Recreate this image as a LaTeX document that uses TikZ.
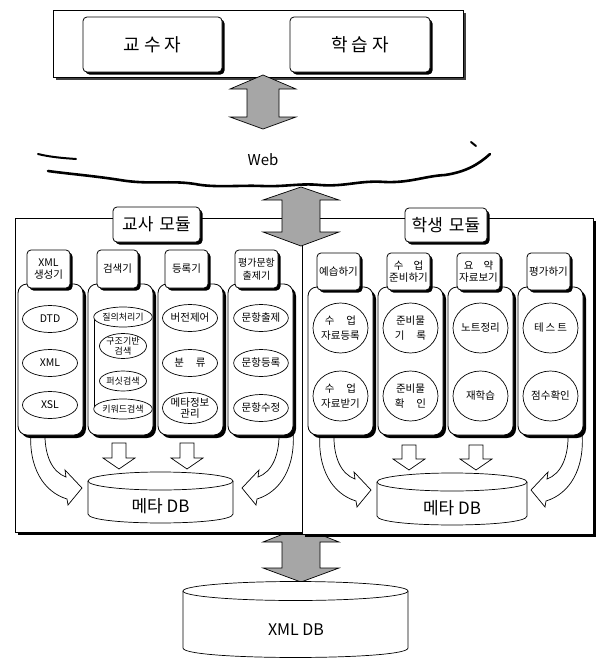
\documentclass[tikz,border=0pt]{standalone}
\usepackage{fontspec}
\setmainfont{Noto Sans CJK KR}
\usetikzlibrary{shadows,shapes.geometric}
\newcommand{\gdarrow}[7]{%
  \filldraw[garrow] (#1,#2) -- (#1+#7,#3) -- (#1+#6,#3) -- (#1+#6,#4) -- (#1+#7,#4) -- (#1,#5)
   -- (#1-#7,#4) -- (#1-#6,#4) -- (#1-#6,#3) -- (#1-#7,#3) -- cycle;}
\newcommand{\hdarrow}[3]{%
  \filldraw[harrow] (#1-7,#2) -- (#1+7,#2) -- (#1+7,#3-11) -- (#1+16,#3-11) -- (#1,#3)
   -- (#1-16,#3-11) -- (#1-7,#3-11) -- cycle;}
\newcommand{\cyl}[5]{%
  \filldraw[fill=white,draw=black,line width=0.7pt] (#1,#3) -- (#1,#4) .. controls (#1,#4+1.33*#5) and (#2,#4+1.33*#5) .. (#2,#4) -- (#2,#3);
  \draw[fill=white,line width=0.7pt] ({(#1+#2)/2},#3) ellipse [x radius={(#2-#1)/2*1pt}, y radius=#5pt];}
\begin{document}
\begin{tikzpicture}[x=1pt,y=-1pt,
  shad/.style={drop shadow={shadow xshift=#1, shadow yshift=-#1, opacity=1, fill=black}},
  sbox/.style={draw=black, line width=0.8pt, fill=white, rounded corners=4pt, shad=2.5pt, inner sep=1pt, align=center},
  hbox/.style={sbox, minimum width=43pt, inner sep=0pt, font=\fontsize{10.5}{12.5}\selectfont},
  colbody/.style={draw=black, line width=0.8pt, fill=white, rounded corners=9pt, shad=3pt, minimum width=65pt, inner sep=0pt},
  frame/.style={draw=black, line width=0.8pt, fill=white, shad=3pt},
  ell/.style={draw=black, line width=0.7pt, fill=white, ellipse, inner sep=0pt, align=center, font=\fontsize{10.5}{12}\selectfont},
  garrow/.style={fill=black!35, draw=black, line width=0.7pt},
  harrow/.style={fill=white, draw=black, line width=0.7pt},
  cloudline/.style={draw=black, line width=2.6pt, line cap=round},
  bigtext/.style={font=\fontsize{17}{20}\selectfont},
  carrow/.pic={
    \filldraw[harrow] (-131,430) .. controls (-134,468) and (-118,492) .. (-95,499) -- (-94,505) -- (-80,488) -- (-97,470) -- (-96,477)
      .. controls (-110,472) and (-118,455) .. (-117,430) -- cycle;
  }
]
\useasboundingbox (0,0) rectangle (601,659);

% bottom double arrow (behind frames)
\gdarrow{301}{527}{542}{568}{582}{19}{38}

% module frames
\path[frame] (15,218) rectangle (302,532);
\path[frame] (302,218) rectangle (593,534);

% middle double arrow
\gdarrow{301}{187}{200}{232}{246}{19}{38}

% cloud
\draw[cloudline] (48,171) .. controls (70,174) and (95,176) .. (120,180) .. controls (150,185) and (170,180) .. (195,184)
  .. controls (215,188) and (240,185) .. (262,186) .. controls (285,187) and (300,183) .. (320,185)
  .. controls (345,187) and (360,180) .. (385,182) .. controls (410,183) and (425,176) .. (445,175)
  .. controls (465,172) and (478,165) .. (490,154);
\draw[cloudline, line width=2pt] (38,154) .. controls (50,157) and (62,158) .. (76,159);
\draw[cloudline, line width=2pt] (471,142) -- (476,146);
\node[font=\fontsize{15}{17}\selectfont] (web) at (263,160) {Web};

% top box
\node[draw=black, line width=0.8pt, fill=white, minimum width=410pt, minimum height=67pt,
  drop shadow={shadow xshift=3pt, shadow yshift=-3pt, opacity=1, fill=black!75}] (top) at (258,43.5) {};
\node[sbox, minimum width=139pt, minimum height=55pt, font=\fontsize{18}{21}\selectfont] (prof) at (152.5,44.5) {교\hspace{4pt}수\hspace{4pt}자};
\node[sbox, minimum width=140pt, minimum height=55pt, font=\fontsize{18}{21}\selectfont] (learner) at (360,44.5) {학\hspace{4pt}습\hspace{4pt}자};
\gdarrow{263}{75}{89}{117}{129}{16}{33}

% module labels
\node[sbox, minimum width=87pt, minimum height=35pt, bigtext] (tmod) at (156.5,224.5) {교사\hspace{6pt}모듈};
\node[sbox, minimum width=82pt, minimum height=34pt, bigtext] (smod) at (446,225) {학생\hspace{6pt}모듈};

% curved arrows (behind columns)
\pic at (162,0) {carrow};
\pic[xscale=-1] at (162,0) {carrow};
\pic at (451,2) {carrow};
\pic[xscale=-1] at (451,2) {carrow};

% teacher columns
\node[colbody, minimum height=151pt] (tc1) at (50.5,359.5) {};
\node[colbody, minimum height=151pt] (tc2) at (120.5,359.5) {};
\node[colbody, minimum height=151pt] (tc3) at (190.5,359.5) {};
\node[colbody, minimum height=151pt] (tc4) at (260.5,359.5) {};
\node[hbox, minimum height=38pt] (th1) at (48.5,269) {XML\\생성기};
\node[hbox, minimum height=38pt, minimum width=41pt] (th2) at (117.5,269) {검색기};
\node[hbox, minimum height=38pt] (th3) at (186.5,269) {등록기};
\node[hbox, minimum height=38pt, font=\fontsize{10}{12.5}\selectfont] (th4) at (256.5,269) {평가문항\\출제기};

\node[ell, minimum width=55pt, minimum height=27pt] (dtd) at (50,319) {DTD};
\node[ell, minimum width=55pt, minimum height=27pt] (xml) at (50,363) {XML};
\node[ell, minimum width=55pt, minimum height=27pt] (xsl) at (50,405) {XSL};

\draw[line width=0.8pt] (101,317) -- (94,317) -- (94,409) -- (101,409);
\node[ell, minimum width=47pt, minimum height=20pt, font=\fontsize{9}{9.5}\selectfont] (q1) at (123,317) {질의처리기};
\node[ell, minimum width=47pt, minimum height=25pt, font=\fontsize{9}{9.5}\selectfont] (q2) at (123,346) {구조기반\\검색};
\node[ell, minimum width=47pt, minimum height=20pt, font=\fontsize{9}{9.5}\selectfont] (q3) at (123,381) {퍼싯검색};
\node[ell, minimum width=47pt, minimum height=20pt, font=\fontsize{9}{9.5}\selectfont] (q4) at (123,409) {키워드검색};

\node[ell, minimum width=55pt, minimum height=27pt] (r1) at (190,318) {버전제어};
\node[ell, minimum width=55pt, minimum height=27pt] (r2) at (190,363) {분\hspace{12pt}류};
\node[ell, minimum width=55pt, minimum height=31pt, font=\fontsize{10.5}{11.5}\selectfont] (r3) at (190,408) {메타정보\\관리};

\node[ell, minimum width=54pt, minimum height=27pt] (e1) at (261,318) {문항출제};
\node[ell, minimum width=54pt, minimum height=27pt] (e2) at (261,363) {문항등록};
\node[ell, minimum width=54pt, minimum height=27pt] (e3) at (261,408) {문항수정};

\hdarrow{119}{443}{469}
\hdarrow{187}{443}{469}
\cyl{88}{233}{481}{514}{9}
\node[bigtext] (mdb1) at (160.5,506) {메타 DB};

% student columns
\node[colbody, minimum height=148pt] (sc1) at (340.5,361) {};
\node[colbody, minimum height=148pt] (sc2) at (410.5,361) {};
\node[colbody, minimum height=148pt] (sc3) at (480.5,361) {};
\node[colbody, minimum height=148pt] (sc4) at (550.5,361) {};
\node[hbox, minimum height=37pt] (sh1) at (338.5,271.5) {예습하기};
\node[hbox, minimum height=37pt] (sh2) at (408.5,271.5) {수\hspace{10pt}업\\준비하기};
\node[hbox, minimum height=37pt] (sh3) at (478.5,271.5) {요\hspace{10pt}약\\자료보기};
\node[hbox, minimum height=37pt] (sh4) at (548.5,271.5) {평가하기};

\node[ell, minimum width=55pt, minimum height=50pt, font=\fontsize{10.5}{15}\selectfont] (s11) at (340.5,328) {수\hspace{12pt}업\\자료등록};
\node[ell, minimum width=55pt, minimum height=50pt, font=\fontsize{10.5}{15}\selectfont] (s12) at (340.5,396) {수\hspace{12pt}업\\자료받기};
\node[ell, minimum width=55pt, minimum height=50pt, font=\fontsize{10.5}{15}\selectfont] (s21) at (410.5,328) {준비물\\기\hspace{12pt}록};
\node[ell, minimum width=55pt, minimum height=50pt, font=\fontsize{10.5}{15}\selectfont] (s22) at (410.5,396) {준비물\\확\hspace{12pt}인};
\node[ell, minimum width=55pt, minimum height=50pt, font=\fontsize{10.5}{15}\selectfont] (s31) at (480.5,328) {노트정리};
\node[ell, minimum width=55pt, minimum height=50pt, font=\fontsize{10.5}{15}\selectfont] (s32) at (480.5,396) {재학습};
\node[ell, minimum width=55pt, minimum height=50pt, font=\fontsize{10.5}{15}\selectfont] (s41) at (550.5,328) {테\hspace{2pt}스\hspace{2pt}트};
\node[ell, minimum width=55pt, minimum height=50pt, font=\fontsize{10.5}{15}\selectfont] (s42) at (550.5,396) {점수확인};

\hdarrow{409}{445}{470}
\hdarrow{476}{445}{470}
\cyl{377}{527}{482}{516}{9}
\node[bigtext] (mdb2) at (452,508) {메타 DB};

% XML DB
\cyl{183}{408}{591}{648}{9.5}
\node[font=\fontsize{16}{18}\selectfont] (xmldb) at (296,630) {XML DB};
\end{tikzpicture}
\end{document}
